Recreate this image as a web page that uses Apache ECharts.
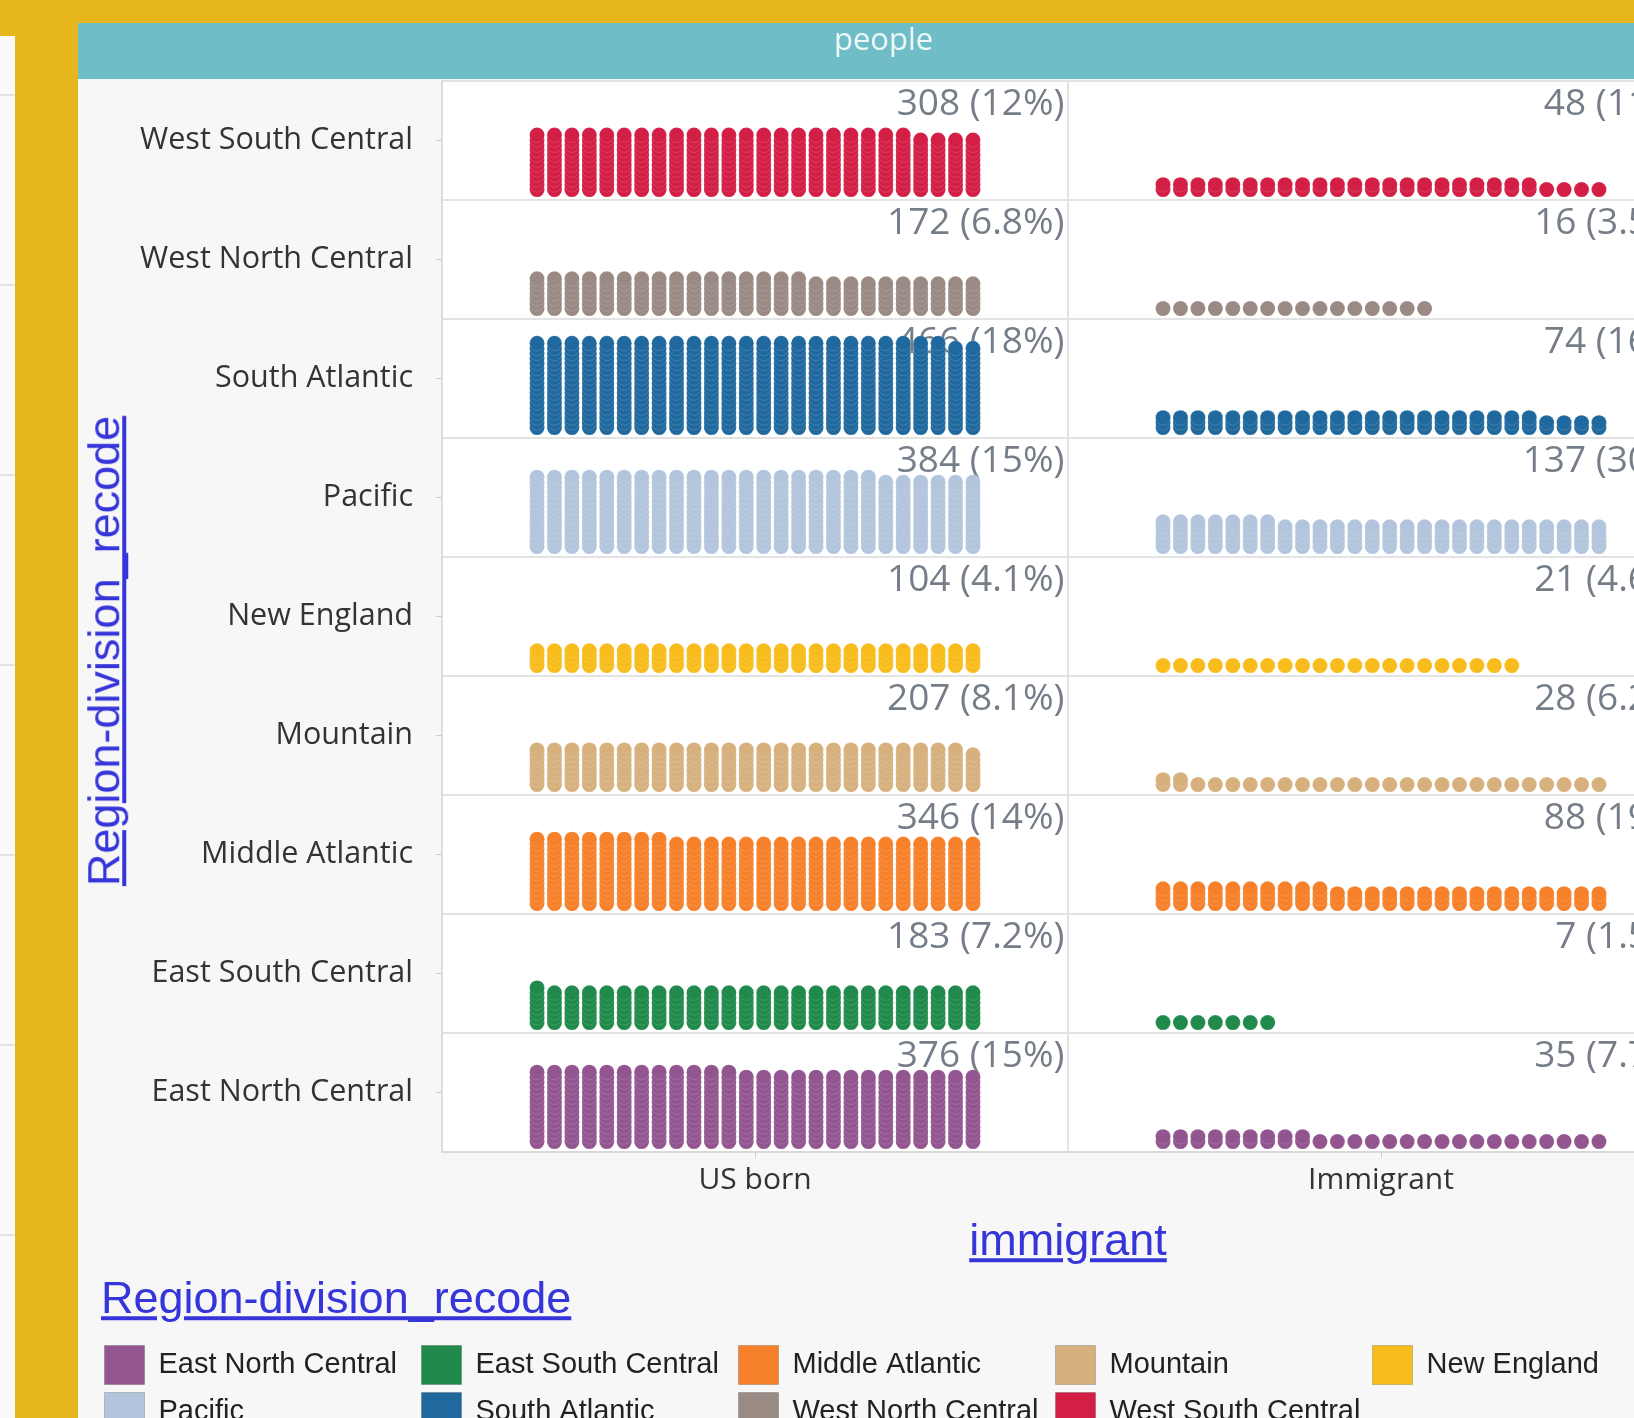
<!DOCTYPE html>
<html>
<head>
<meta charset="utf-8">
<title>people by region and immigrant status</title>
<script src="https://cdn.jsdelivr.net/npm/echarts@6/dist/echarts.min.js"></script>
<style>
  html, body { margin: 0; padding: 0; overflow: hidden; }
  body { width: 1634px; height: 1418px; position: relative; background: #e5b71d; }
  .side-strip {
    position: absolute; left: 0; top: 36px; width: 15px; height: 1382px; background-color: #fafafa;
    background-image: repeating-linear-gradient(to bottom, transparent 0, transparent 58px, #e2e2e2 58px, #e2e2e2 60px, transparent 60px, transparent 190px);
  }
  #chart { position: absolute; left: 78px; top: 23px; width: 1700px; height: 1395px; }
  .link {
    position: absolute; z-index: 2; white-space: nowrap;
    font-family: "Liberation Sans", Arial, sans-serif; font-size: 45px; line-height: 1.1;
    color: #3535d9; text-decoration: underline;
  }
  #y-title { left: 104px; top: 651px; transform: translate(-50%, -50%) rotate(-90deg); }
  #x-title { left: 1068px; top: 1240px; transform: translate(-50%, -50%); }
  #legend-title { left: 101px; top: 1298px; transform: translate(0, -50%); }
</style>
</head>
<body>
<div class="side-strip"></div>
<div id="chart"></div>
<a class="link" id="y-title">Region-division_recode</a>
<a class="link" id="x-title">immigrant</a>
<a class="link" id="legend-title">Region-division_recode</a>
<script>
// 分类 (从下到上)
const regions = ['East North Central', 'East South Central', 'Middle Atlantic', 'Mountain', 'New England',
  'Pacific', 'South Atlantic', 'West North Central', 'West South Central'];
const groups = ['US born', 'Immigrant'];
// 每个格子的人数
const usBorn = [376, 183, 346, 207, 104, 384, 466, 172, 308];
const immigrant = [35, 7, 88, 28, 21, 137, 74, 16, 48];
const colors = ['#93558f', '#1f8a4b', '#f6812a', '#d6b17e', '#f8bd1d',
  '#b2c5dc', '#20699f', '#9a8a84', '#d31e46'];

const COLS = 26;        // 每行点数
const PANEL_W = 35.9;   // 每个面板宽度 (列单位)
const X_MIN = -5.45;
const BAND = 24;        // 每个区域高度 (行单位)
const BASE = 2.1;       // 点离区域底部的距离

const counts = [usBorn, immigrant];
const totals = counts.map(arr => arr.reduce((a, b) => a + b, 0));

function dots(p, b, n) {
  let out = [];
  for (let i = 0; i < n; i++) {
    out.push([p * PANEL_W + (i % COLS), b * BAND + BASE + Math.floor(i / COLS)]);
  }
  return out;
}

let series = [];
// 标签 (数量 + 百分比)
let labelData = [];
for (let p = 0; p < groups.length; p++) {
  for (let b = 0; b < regions.length; b++) {
    labelData.push({
      value: [X_MIN + (p + 1) * PANEL_W, (b + 1) * BAND - 4.8],
      count: counts[p][b],
      pct: (counts[p][b] / totals[p] * 100).toPrecision(2)
    });
  }
}
series.push({
  name: 'labels',
  type: 'scatter',
  xAxisIndex: 1,
  yAxisIndex: 1,
  symbolSize: 1,
  silent: true,
  z: 2,
  itemStyle: { color: 'transparent' },
  label: {
    show: true,
    position: 'left',
    distance: 3,
    formatter: (params) => params.data.count + ' (' + params.data.pct + '%)',
    fontFamily: 'Open Sans',
    fontSize: 37,
    color: '#525e6a'
  },
  data: labelData
});
for (let r = 0; r < regions.length; r++) {
  series.push({
    name: regions[r],
    type: 'scatter',
    xAxisIndex: 1,
    yAxisIndex: 1,
    symbolSize: 15,
    z: 3,
    itemStyle: { color: colors[r], borderColor: 'rgba(255,255,255,0.14)', borderWidth: 1, opacity: 1 },
    data: dots(0, r, usBorn[r]).concat(dots(1, r, immigrant[r]))
  });
}

// 图例: 5列网格, 每个区域一个
let legends = regions.map((name, i) => ({
  data: [name],
  left: 26 + (i % 5) * 317,
  top: 1322 + Math.floor(i / 5) * 47,
  padding: 0,
  itemWidth: 40,
  itemHeight: 39,
  icon: 'rect',
  itemStyle: { borderColor: 'rgba(0,0,0,0.18)', borderWidth: 1 },
  textStyle: { fontFamily: 'Liberation Sans', fontSize: 29, color: '#222222', padding: [0, 0, 0, 9] }
}));

let option = {
  animation: false,
  backgroundColor: '#f7f7f7',
  color: colors,
  title: {
    text: 'people',
    left: 756,
    top: 3,
    padding: 0,
    textStyle: { color: '#eef8f9', fontSize: 31, fontWeight: 'normal', fontFamily: 'Open Sans' }
  },
  graphic: [{
    type: 'rect', left: 0, top: 0, z: -1,
    shape: { width: 1700, height: 56 },
    style: { fill: '#6fbdc7' }
  }],
  grid: {
    left: 364, top: 58, width: 1252, height: 1071,
    show: true, backgroundColor: '#ffffff', borderWidth: 0,
    outerBoundsMode: 'none'
  },
  xAxis: [{
    type: 'category',
    data: groups,
    position: 'bottom',
    axisLine: { show: true, onZero: false, lineStyle: { color: '#d9d9d9', width: 2 } },
    axisTick: { show: true, alignWithLabel: true, length: 6, lineStyle: { color: '#cccccc' } },
    axisLabel: { color: '#333333', fontSize: 30, fontFamily: 'Open Sans', margin: 13 },
    splitLine: { show: true, lineStyle: { color: '#e3e3e3', width: 2 } }
  }, {
    type: 'value',
    min: X_MIN,
    max: X_MIN + 2 * PANEL_W,
    show: false,
    splitLine: { show: false }
  }],
  yAxis: [{
    type: 'category',
    data: regions,
    position: 'left',
    axisLine: { show: true, onZero: false, lineStyle: { color: '#dddddd', width: 2 } },
    axisTick: { show: true, alignWithLabel: true, length: 6, lineStyle: { color: '#cccccc' } },
    axisLabel: { color: '#333333', fontSize: 30.5, fontFamily: 'Open Sans', margin: 29 },
    splitLine: { show: true, lineStyle: { color: '#e3e3e3', width: 2 } }
  }, {
    type: 'value',
    min: 0,
    max: regions.length * BAND,
    show: false,
    splitLine: { show: false }
  }],
  legend: legends,
  series: series
};

let myChart = echarts.init(document.getElementById('chart'));
myChart.setOption(option);
</script>
</body>
</html>
